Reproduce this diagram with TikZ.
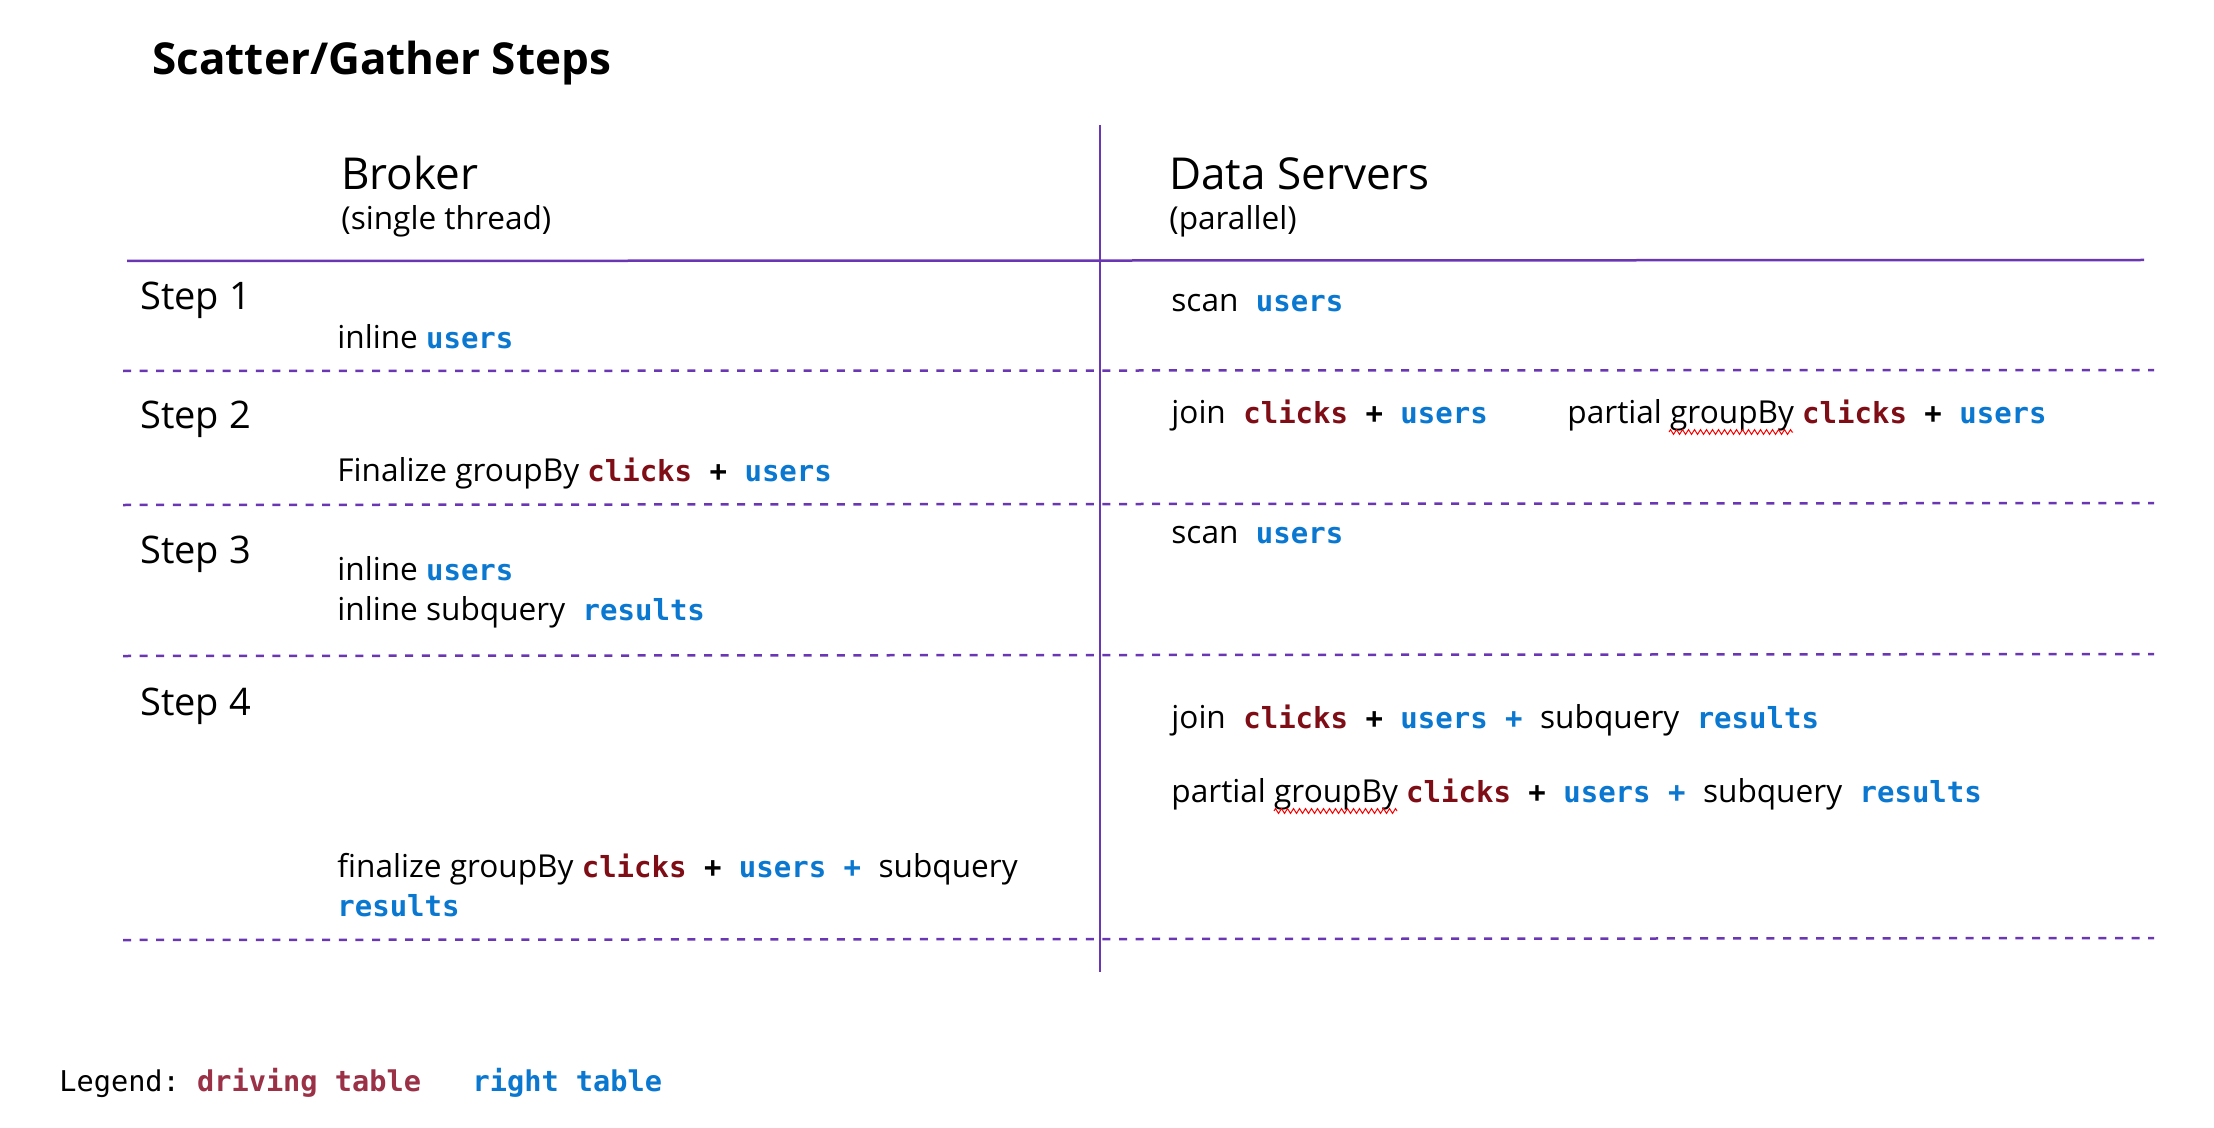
\documentclass[tikz,border=0pt]{standalone}
\usepackage{fontspec}
\setmainfont{Open Sans}
\setmonofont{DejaVu Sans Mono}
\usetikzlibrary{decorations.pathmorphing}
\definecolor{clk}{HTML}{7F0D16}
\definecolor{usr}{HTML}{0A78D0}
\definecolor{drv}{HTML}{9A3146}
\definecolor{lin}{HTML}{6A36B4}
\newcommand\mnb{\fontsize{14.5}{17}\selectfont\ttfamily\bfseries}
\newcommand\tclk[1]{{\mnb\color{clk}#1}}
\newcommand\tusr[1]{{\mnb\color{usr}#1}}
\newcommand\tmn[1]{{\mnb #1}}
\tikzset{
  txt/.style={anchor=base west, inner sep=0pt, font=\fontsize{15.8}{19}\selectfont},
  hdr/.style={anchor=base west, inner sep=0pt, font=\fontsize{22}{26}\selectfont},
  steplbl/.style={anchor=base west, inner sep=0pt, font=\fontsize{19}{23}\selectfont},
  ttl/.style={anchor=base west, inner sep=0pt, font=\fontsize{22}{26}\selectfont\bfseries},
  solidln/.style={draw=lin, line width=1.25pt},
  dashln/.style={draw=lin, line width=1.25pt, dash pattern=on 4pt off 4.3pt},
  squig/.style={draw=red, line width=0.5pt, decorate, decoration={zigzag, amplitude=1.2pt, segment length=3pt}}
}
\begin{document}
\begin{tikzpicture}[x=0.5pt,y=-0.5pt]
\useasboundingbox[fill=white] (0,0) rectangle (2214,1128);
% title
\node[ttl] (title) at (152,75) {Scatter/Gather Steps};
% headers
\node[hdr] (broker) at (341,190) {Broker};
\node[txt] (brokersub) at (341,230) {(single thread)};
\node[hdr] (ds) at (1169,190) {Data Servers};
\node[txt] (dssub) at (1169,230) {(parallel)};
% grid lines
\coordinate (vt) at (1100,125); \coordinate (vb) at (1100,972);
\coordinate (h0l) at (127,261); \coordinate (h0r) at (2144,260);
\coordinate (h1l) at (123,371); \coordinate (h1r) at (2154,370);
\coordinate (h2l) at (123,505); \coordinate (h2r) at (2154,503);
\coordinate (h3l) at (123,656); \coordinate (h3r) at (2154,654);
\coordinate (h4l) at (123,940); \coordinate (h4r) at (2154,938);
\draw[solidln] (vt) -- (vb);
\draw[solidln] (h0l) -- (h0r);
\draw[dashln] (h1l) -- (h1r);
\draw[dashln] (h2l) -- (h2r);
\draw[dashln] (h3l) -- (h3r);
\draw[dashln] (h4l) -- (h4r);
% step labels
\node[steplbl] (s1) at (140,310) {Step 1};
\node[steplbl] (s2) at (140,428) {Step 2};
\node[steplbl] (s3) at (140,563) {Step 3};
\node[steplbl] (s4) at (140,715) {Step 4};
% broker column
\node[txt] (b1) at (337,349) {inline \tusr{users}};
\node[txt] (b2) at (337,481) {Finalize groupBy \tclk{clicks}\tmn{ + }\tusr{users}};
\node[txt] (b3a) at (337,580) {inline \tusr{users}};
\node[txt] (b3b) at (337,620) {inline subquery\tmn{ }\tusr{results}};
\node[txt] (b4a) at (337,877) {finalize groupBy \tclk{clicks}\tmn{ + }\tusr{users + }subquery};
\node[txt] (b4b) at (337,916) {\tusr{results}};
% data servers column
\node[txt] (d1) at (1171,312) {scan\tmn{ }\tusr{users}};
\node[txt] (d2a) at (1171,423) {join\tmn{ }\tclk{clicks}\tmn{ + }\tusr{users}};
\node[txt] (d2b) at (1567,423) {partial groupBy \tclk{clicks}\tmn{ + }\tusr{users}};
\node[txt] (d3) at (1171,543) {scan\tmn{ }\tusr{users}};
\node[txt] (d4a) at (1171,728) {join\tmn{ }\tclk{clicks}\tmn{ + }\tusr{users + }subquery\tmn{ }\tusr{results}};
\node[txt] (d4b) at (1171,802) {partial groupBy \tclk{clicks}\tmn{ + }\tusr{users + }subquery\tmn{ }\tusr{results}};
% spell-check squiggles
\coordinate (q1a) at (1669,432); \coordinate (q1b) at (1793,432);
\coordinate (q2a) at (1274,811); \coordinate (q2b) at (1397,811);
\draw[squig] (q1a) -- (q1b);
\draw[squig] (q2a) -- (q2b);
% legend
\node[anchor=base west, inner sep=0pt, font=\fontsize{14.3}{17}\selectfont\ttfamily] (legend) at (59,1091)
  {Legend: {\bfseries\color{drv}driving table}\ \ \ {\bfseries\color{usr}right table}};
\end{tikzpicture}
\end{document}
